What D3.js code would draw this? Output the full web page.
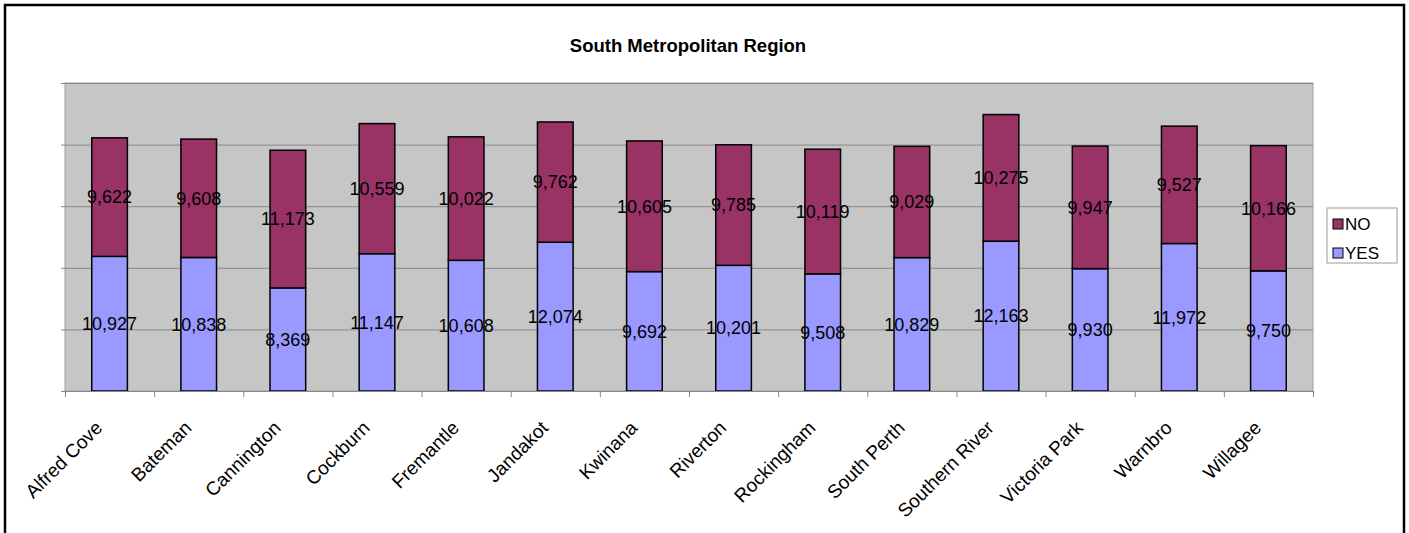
<!DOCTYPE html>
<html>
<head>
<meta charset="utf-8">
<script src="https://cdn.jsdelivr.net/npm/d3@7"></script>
<style>
  body { margin: 0; background: #fff; }
  svg { display: block; font-family: Arial, 'Liberation Sans', sans-serif; }
</style>
</head>
<body>
<div id="chart"></div>
<script>
const categories = ['Alfred Cove', 'Bateman', 'Cannington', 'Cockburn', 'Fremantle', 'Jandakot', 'Kwinana',
    'Riverton', 'Rockingham', 'South Perth', 'Southern River', 'Victoria Park', 'Warnbro', 'Willagee']
const yesValues = [10927, 10838, 8369, 11147, 10608, 12074, 9692, 10201, 9508, 10829, 12163, 9930, 11972, 9750]
const noValues = [9622, 9608, 11173, 10559, 10022, 9762, 10605, 9785, 10119, 9029, 10275, 9947, 9527, 10166]
const yTicks = [0, 5000, 10000, 15000, 20000, 25000]
const seriesNames = ['YES', 'NO']
const colors = { YES: '#9999FF', NO: '#993366' }

const width = 1409
const height = 533
const margin = { top: 83, left: 65, right: 96, bottom: 142 }
const plotW = width - margin.left - margin.right
const plotH = height - margin.top - margin.bottom

const data = categories.map((c, i) => ({ cat: c, YES: yesValues[i], NO: noValues[i] }))

const svg = d3.select('#chart')
    .append('svg')
    .attr('width', width)
    .attr('height', height)

// outer frame
svg.append('rect')
    .attr('x', 5).attr('y', 5)
    .attr('width', 1399).attr('height', 540)
    .attr('fill', '#fff')
    .attr('stroke', '#000')
    .attr('stroke-width', 2.5)

svg.append('text')
    .attr('x', 688)
    .attr('y', 52)
    .attr('text-anchor', 'middle')
    .style('font-size', '18.5px')
    .style('font-weight', 'bold')
    .text('South Metropolitan Region')

const g = svg.append('g').attr('transform', `translate(${margin.left}, ${margin.top})`)

const x = d3.scaleBand().domain(categories).range([0, plotW]).paddingInner(0.6).paddingOuter(0.3)
const y = d3.scaleLinear().domain([0, 25000]).range([plotH, 0])

g.append('rect')
    .attr('width', plotW)
    .attr('height', plotH)
    .attr('fill', '#C6C6C6')
    .attr('stroke', '#A0A0A0')
    .attr('stroke-width', 1)

// gridlines plus small outside ticks on the left
g.append('g')
    .attr('transform', 'translate(-4, 0)')
    .call(d3.axisLeft(y).tickValues(yTicks).tickSize(-plotW - 4).tickFormat(''))
    .call(s => s.select('.domain').remove())
    .call(s => s.selectAll('line').attr('stroke', '#888'))

const stack = d3.stack().keys(seriesNames)(data)

const layers = g.selectAll('.layer')
    .data(stack)
    .join('g')
    .attr('fill', d => colors[d.key])

layers.selectAll('rect')
    .data(d => d)
    .join('rect')
    .attr('x', d => x(d.data.cat))
    .attr('y', d => y(d[1]))
    .attr('width', x.bandwidth())
    .attr('height', d => y(d[0]) - y(d[1]))
    .attr('stroke', '#000')
    .attr('stroke-width', 1.5)

layers.selectAll('text')
    .data(d => d)
    .join('text')
    .attr('x', d => x(d.data.cat) + x.bandwidth() / 2)
    .attr('y', d => (y(d[0]) + y(d[1])) / 2)
    .attr('dy', '0.35em')
    .attr('text-anchor', 'middle')
    .attr('fill', '#000')
    .style('font-size', '18px')
    .text(d => d3.format(',')(d[1] - d[0]))

// x axis, ticks between categories
const xAxisScale = d3.scalePoint().domain(d3.range(categories.length + 1)).range([0, plotW])
g.append('g')
    .attr('transform', `translate(0, ${plotH})`)
    .call(d3.axisBottom(xAxisScale).tickSize(6).tickFormat(''))
    .call(s => s.selectAll('line, path').attr('stroke', '#888'))

g.append('g')
    .selectAll('text')
    .data(categories)
    .join('text')
    .attr('transform', d => `translate(${x(d) + x.bandwidth() / 2 - 6}, ${plotH + 38}) rotate(-45)`)
    .attr('text-anchor', 'end')
    .style('font-size', '19px')
    .text(d => d)

// legend
const legend = svg.append('g').attr('transform', 'translate(1327, 208)')
legend.append('rect')
    .attr('width', 70).attr('height', 55)
    .attr('fill', '#fff').attr('stroke', '#999')

const legendItems = ['NO', 'YES']
legendItems.forEach((k, i) => {
    const row = legend.append('g').attr('transform', `translate(6, ${16 + i * 29})`)
    row.append('rect')
        .attr('x', 0).attr('y', -5)
        .attr('width', 10).attr('height', 10)
        .attr('fill', colors[k]).attr('stroke', '#000')
    row.append('text')
        .attr('x', 12).attr('dy', '0.36em')
        .style('font-size', '17px')
        .text(k)
})
</script>
</body>
</html>
